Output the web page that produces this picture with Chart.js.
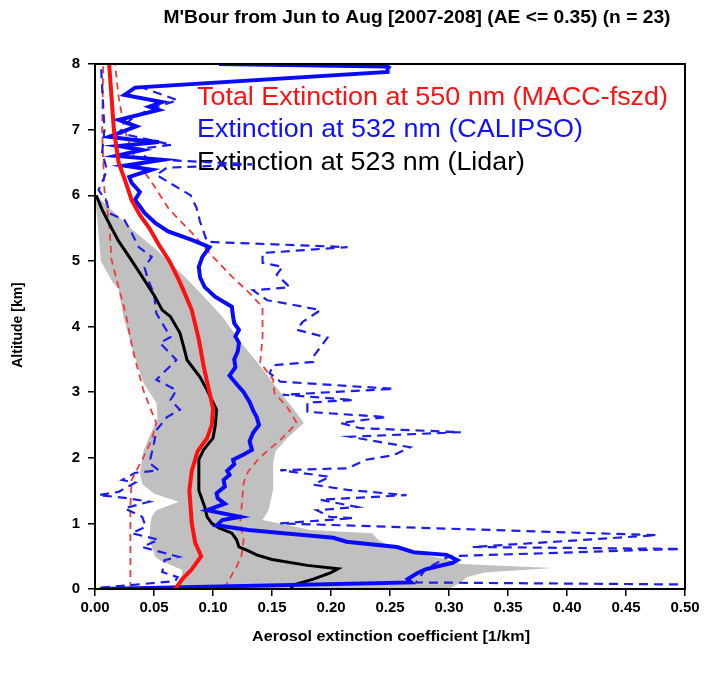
<!DOCTYPE html>
<html>
<head>
<meta charset="utf-8">
<title>M'Bour extinction profiles</title>
<script src="https://cdn.jsdelivr.net/npm/chart.js@4.4.0/dist/chart.umd.min.js"></script>
<style>
  html, body { margin: 0; padding: 0; background: #fff; }
  #wrap { width: 706px; height: 674px; }
</style>
</head>
<body>
<div id="wrap"><canvas id="profileChart" width="706" height="674"></canvas></div>
<script>
// ── Data: [altitude km, extinction 1/km] ──
var xTicks = [0, 0.05, 0.10, 0.15, 0.20, 0.25, 0.30, 0.35, 0.40, 0.45, 0.50];
var yTicks = [0, 1, 2, 3, 4, 5, 6, 7, 8];

var lidarMean = [[0.00,0.166],[0.06,0.168],[0.15,0.185],[0.25,0.200],[0.31,0.206],[0.36,0.180],[0.45,0.150],[0.52,0.137],[0.58,0.130],[0.64,0.122],[0.75,0.120],[0.85,0.116],[0.93,0.105],[1.00,0.099],[1.10,0.095],[1.25,0.093],[1.50,0.088],[1.75,0.088],[1.97,0.088],[2.12,0.092],[2.30,0.100],[2.50,0.102],[2.73,0.103],[2.88,0.099],[3.03,0.095],[3.23,0.089],[3.49,0.078],[3.70,0.075],[3.90,0.072],[4.15,0.064],[4.25,0.057],[4.45,0.051],[4.76,0.040],[5.06,0.029],[5.30,0.020],[5.50,0.014],[5.78,0.006],[6.00,0.001]];
var lidarLow = [[0.00,0.072],[0.29,0.074],[0.44,0.055],[0.49,0.051],[0.75,0.046],[1.00,0.047],[1.10,0.048],[1.20,0.052],[1.33,0.071],[1.45,0.050],[1.60,0.040],[1.77,0.038],[2.10,0.041],[2.32,0.046],[2.60,0.053],[2.84,0.052],[3.14,0.041],[3.64,0.032],[4.15,0.024],[4.56,0.020],[4.70,0.014],[5.00,0.005],[5.60,0.002],[6.00,0.000]];
var lidarHigh = [[0.00,0.300],[0.10,0.310],[0.18,0.315],[0.25,0.330],[0.32,0.388],[0.38,0.310],[0.45,0.300],[0.55,0.270],[0.65,0.250],[0.75,0.240],[0.85,0.235],[0.90,0.182],[0.95,0.170],[1.05,0.142],[1.20,0.147],[1.51,0.151],[1.92,0.151],[2.10,0.153],[2.30,0.163],[2.53,0.177],[2.75,0.168],[3.00,0.157],[3.40,0.140],[3.75,0.124],[4.15,0.108],[4.50,0.090],[4.76,0.076],[5.17,0.052],[5.50,0.030],[6.00,0.001]];

var maccMean = [[0.00,0.068],[0.15,0.074],[0.30,0.082],[0.50,0.090],[0.70,0.085],[1.00,0.082],[1.50,0.080],[1.80,0.082],[2.10,0.087],[2.30,0.095],[2.50,0.099],[2.75,0.100],[3.00,0.097],[3.40,0.092],[3.80,0.088],[4.25,0.082],[4.55,0.075],[4.75,0.070],[5.00,0.063],[5.25,0.054],[5.50,0.046],[5.70,0.038],[5.93,0.031],[6.20,0.026],[6.50,0.020],[7.00,0.016],[8.00,0.012]];
var maccLow = [[0.00,0.030],[0.75,0.030],[1.25,0.030],[1.66,0.031],[1.97,0.040],[2.27,0.048],[2.53,0.052],[2.75,0.047],[3.03,0.041],[3.64,0.032],[4.20,0.026],[4.60,0.020],[5.02,0.014],[5.58,0.012],[6.08,0.008],[6.50,0.007],[7.00,0.006],[8.00,0.007]];
var maccHigh = [[0.00,0.110],[0.09,0.112],[0.34,0.120],[0.50,0.124],[0.75,0.126],[1.00,0.123],[1.62,0.126],[1.80,0.130],[2.01,0.140],[2.27,0.157],[2.53,0.171],[2.77,0.163],[2.99,0.152],[3.19,0.151],[3.45,0.140],[3.84,0.142],[4.30,0.142],[4.56,0.128],[4.76,0.116],[5.12,0.097],[5.43,0.082],[5.78,0.063],[6.20,0.048],[6.40,0.040],[6.60,0.033],[7.00,0.025],[7.50,0.020],[8.00,0.017]];

var calipsoMean = [[0.00,0.004],[0.10,0.268],[0.15,0.265],[0.24,0.273],[0.30,0.280],[0.40,0.303],[0.44,0.307],[0.52,0.298],[0.56,0.270],[0.64,0.256],[0.72,0.213],[0.78,0.202],[0.85,0.160],[0.90,0.130],[0.97,0.103],[1.05,0.108],[1.10,0.123],[1.20,0.095],[1.30,0.110],[1.38,0.104],[1.46,0.103],[1.56,0.110],[1.66,0.109],[1.74,0.114],[1.80,0.112],[1.90,0.118],[1.97,0.117],[2.05,0.126],[2.12,0.133],[2.25,0.131],[2.38,0.134],[2.50,0.139],[2.62,0.137],[2.72,0.134],[2.85,0.131],[3.00,0.126],[3.10,0.121],[3.25,0.114],[3.38,0.119],[3.50,0.118],[3.62,0.121],[3.75,0.122],[3.85,0.119],[3.95,0.122],[4.05,0.118],[4.15,0.117],[4.30,0.116],[4.45,0.102],[4.60,0.093],[4.75,0.089],[4.91,0.088],[5.06,0.091],[5.21,0.097],[5.32,0.082],[5.45,0.062],[5.58,0.051],[5.73,0.042],[5.93,0.034],[6.05,0.038],[6.19,0.031],[6.28,0.029],[6.39,0.048],[6.45,0.025],[6.54,0.057],[6.60,0.018],[6.69,0.040],[6.75,0.020],[6.81,0.054],[6.85,0.030],[6.89,0.012],[7.05,0.035],[7.15,0.020],[7.30,0.054],[7.35,0.046],[7.42,0.057],[7.53,0.025],[7.64,0.034],[7.88,0.248],[7.96,0.248],[8.00,0.105]];
var calipsoLow = [[0.02,0.005],[0.12,0.068],[0.18,0.070],[0.26,0.057],[0.44,0.059],[0.49,0.071],[0.64,0.040],[0.75,0.054],[0.85,0.031],[0.95,0.043],[1.10,0.040],[1.23,0.025],[1.33,0.046],[1.39,0.025],[1.43,0.003],[1.48,0.020],[1.62,0.034],[1.66,0.023],[1.77,0.034],[1.81,0.054],[1.92,0.046],[2.07,0.048],[2.22,0.050],[2.42,0.052],[2.62,0.061],[2.73,0.072],[2.88,0.064],[3.03,0.069],[3.19,0.052],[3.49,0.069],[3.75,0.055],[3.84,0.064],[4.20,0.052],[4.50,0.050],[4.71,0.045],[4.90,0.042],[5.06,0.048],[5.21,0.037],[5.43,0.031],[5.62,0.025],[5.73,0.012],[5.90,0.010],[6.08,0.003],[6.28,0.008],[6.40,0.010],[6.64,0.006],[7.00,0.008],[8.00,0.005]];
var calipsoHigh = [[0.07,0.494],[0.10,0.272],[0.30,0.280],[0.50,0.300],[0.61,0.496],[0.64,0.320],[0.82,0.476],[1.00,0.157],[1.08,0.219],[1.10,0.199],[1.20,0.188],[1.25,0.222],[1.36,0.191],[1.43,0.264],[1.51,0.214],[1.59,0.185],[1.71,0.199],[1.81,0.157],[1.84,0.214],[1.97,0.230],[2.04,0.253],[2.16,0.267],[2.32,0.216],[2.39,0.310],[2.45,0.225],[2.53,0.208],[2.62,0.247],[2.70,0.180],[2.84,0.180],[2.88,0.219],[2.96,0.159],[3.05,0.253],[3.16,0.157],[3.29,0.148],[3.41,0.151],[3.46,0.185],[3.54,0.185],[3.83,0.197],[3.95,0.171],[4.07,0.176],[4.25,0.191],[4.36,0.159],[4.40,0.146],[4.55,0.134],[4.60,0.165],[4.79,0.154],[4.91,0.159],[4.97,0.142],[5.12,0.142],[5.21,0.214],[5.29,0.095],[5.60,0.089],[5.81,0.086],[6.00,0.081],[6.16,0.066],[6.31,0.052],[6.42,0.061],[6.47,0.133],[6.55,0.045],[6.70,0.035],[6.77,0.065],[6.95,0.020],[7.15,0.030],[7.30,0.045],[7.45,0.070],[7.64,0.040],[7.88,0.248],[7.95,0.250],[8.00,0.110]];

var titleText = "M'Bour from Jun to Aug [2007-208] (AE <= 0.35) (n = 23)";
var xTitle = 'Aerosol extinction coefficient [1/km]';
var yTitle = 'Altitude [km]';
var legendLines = [
    { text: 'Total Extinction at 550 nm (MACC-fszd)', color: '#ff1010' },
    { text: 'Extinction at 532 nm (CALIPSO)', color: '#1010ff' },
    { text: 'Extinction at 523 nm (Lidar)', color: '#000000' }
];

function toPoints(arr) {
    return arr.map(function(p) { return { x: p[1], y: p[0] }; });
}

// draws text squeezed/stretched to a target width (w = 0 keeps natural width)
function drawText(ctx, txt, x, y, w, font, color, align, rot) {
    ctx.save();
    ctx.font = font;
    ctx.fillStyle = color;
    ctx.textBaseline = 'middle';
    ctx.textAlign = align || 'center';
    ctx.translate(x, y);
    if (rot) ctx.rotate(rot);
    if (w) ctx.scale(w / ctx.measureText(txt).width, 1);
    ctx.fillText(txt, 0, 0);
    ctx.restore();
}

var SANS = "'Liberation Sans', Arial, Helvetica, sans-serif";

var textPlugin = {
    id: 'profileTexts',
    beforeDatasetsDraw: function(chart) {
        var ctx = chart.ctx;
        var widths = [471, 386, 328];
        var ys = [98, 130, 163];
        legendLines.forEach(function(l, i) {
            drawText(ctx, l.text, 197, ys[i], widths[i], '26px ' + SANS, l.color, 'left');
        });
    },
    afterDraw: function(chart) {
        var ctx = chart.ctx, a = chart.chartArea;
        ctx.save();
        ctx.strokeStyle = '#000';
        ctx.lineWidth = 2;
        ctx.strokeRect(a.left, a.top, a.right - a.left, a.bottom - a.top);
        ctx.restore();
        drawText(ctx, titleText, 417, 18, 507, 'bold 18px ' + SANS, '#000');
        drawText(ctx, xTitle, 391, 637, 278, 'bold 14px ' + SANS, '#000');
        drawText(ctx, yTitle, 18, 325, 0, 'bold 14px ' + SANS, '#000', 'center', -Math.PI / 2);
    }
};

var lineBase = { pointRadius: 0, pointHoverRadius: 0, fill: false, tension: 0 };
function series(arr, extra) {
    return Object.assign({ data: toPoints(arr) }, lineBase, extra);
}

var ctx = document.getElementById('profileChart').getContext('2d');
new Chart(ctx, {
    type: 'line',
    data: {
        datasets: [
            series(lidarLow, { borderWidth: 0, borderColor: 'rgba(0,0,0,0)', order: 10 }),
            series(lidarHigh, { borderWidth: 0, borderColor: 'rgba(0,0,0,0)', backgroundColor: 'rgb(192,192,192)', fill: '-1', order: 9 }),
            series(maccLow, { borderColor: 'rgb(238,60,60)', borderWidth: 1.8, borderDash: [7, 5], order: 7 }),
            series(maccHigh, { borderColor: 'rgb(238,60,60)', borderWidth: 1.8, borderDash: [7, 5], order: 7 }),
            series(calipsoLow, { borderColor: 'rgb(30,30,235)', borderWidth: 2.2, borderDash: [9, 6], order: 6 }),
            series(calipsoHigh, { borderColor: 'rgb(30,30,235)', borderWidth: 2.2, borderDash: [9, 6], order: 6 }),
            series(lidarMean, { borderColor: '#000', borderWidth: 3, order: 4 }),
            series(calipsoMean, { borderColor: 'rgb(10,10,255)', borderWidth: 4, order: 3 }),
            series(maccMean, { borderColor: 'rgb(255,15,15)', borderWidth: 4, order: 2 })
        ]
    },
    options: {
        responsive: false,
        animation: false,
        indexAxis: 'y',
        devicePixelRatio: 1,
        layout: { padding: { top: 64, right: 21, left: 0, bottom: 0 } },
        plugins: { legend: { display: false }, tooltip: { enabled: false }, title: { display: false } },
        scales: {
            x: {
                type: 'linear', min: 0, max: 0.5, position: 'bottom',
                afterBuildTicks: function(s) { s.ticks = xTicks.map(function(v) { return { value: v }; }); },
                afterFit: function(s) { s.height = 85; },
                grid: { drawOnChartArea: false, drawTicks: true, tickLength: 7, color: '#000', lineWidth: 1.5 },
                border: { display: true, color: '#000', width: 2 },
                ticks: { color: '#000', padding: 3, maxRotation: 0, autoSkip: false, font: { family: SANS, size: 15, weight: 'bold' }, callback: function(v) { return Number(v).toFixed(2); } }
            },
            y: {
                type: 'linear', min: 0, max: 8, position: 'left',
                afterBuildTicks: function(s) { s.ticks = yTicks.map(function(v) { return { value: v }; }); },
                afterFit: function(s) { s.width = 95; },
                grid: { drawOnChartArea: false, drawTicks: true, tickLength: 7, color: '#000', lineWidth: 1.5 },
                border: { display: true, color: '#000', width: 2 },
                ticks: { color: '#000', padding: 8, autoSkip: false, font: { family: SANS, size: 15, weight: 'bold' } }
            }
        }
    },
    plugins: [textPlugin]
});
</script>
</body>
</html>
